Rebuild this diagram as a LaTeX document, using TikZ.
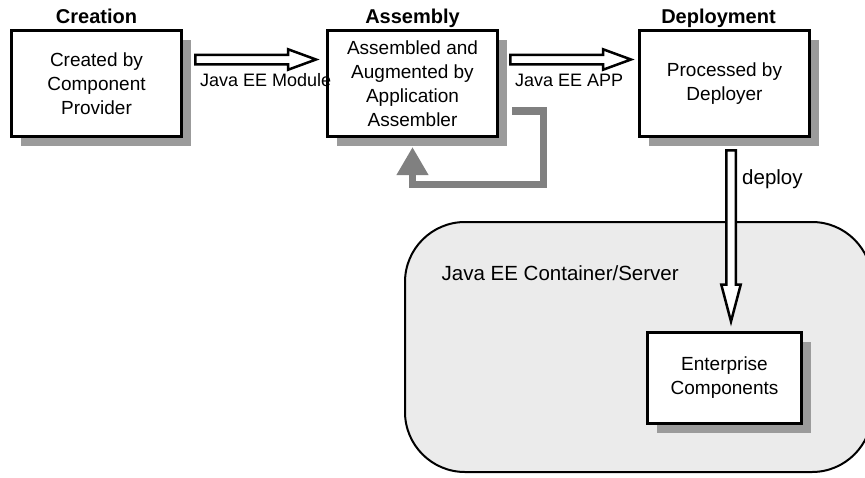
\documentclass[tikz,border=0pt]{standalone}
\usepackage{fontspec}
\setmainfont{Liberation Sans}
\usepackage{tikz}
\usetikzlibrary{shapes,arrows,arrows.meta,positioning,shadows,calc}
\definecolor{shadowgray}{RGB}{155,155,155}
\definecolor{loopgray}{RGB}{128,128,128}
\definecolor{serverfill}{RGB}{235,235,235}

\begin{document}
\begin{tikzpicture}[
    x=1pt, y=1pt,
    box/.style={rectangle, draw, line width=3pt, fill=white, minimum width=170pt, minimum height=106pt, align=center, font=\fontsize{19}{24}\selectfont, drop shadow={shadow xshift=9.5pt, shadow yshift=-9.5pt, fill=shadowgray, opacity=1}},
    phase/.style={font=\fontsize{20}{24}\selectfont\bfseries, inner sep=0pt, text depth=0pt},
    lbl/.style={font=\fontsize{18}{22}\selectfont, inner sep=0pt, anchor=base west},
    biglbl/.style={font=\fontsize{20.5}{24}\selectfont, inner sep=0pt, anchor=base west},
    server/.style={rectangle, draw, line width=2pt, fill=serverfill, rounded corners=60pt, minimum width=467pt, minimum height=250pt},
    feedback/.style={draw=loopgray, line width=7.5pt, -{Triangle[length=28pt, width=30pt]}},
    blockarrow/.style 2 args={draw, fill=white, line width=2.5pt, to path={
        ($(\tikztostart)!4.75pt!90:(\tikztotarget)$)
        -- ($(\tikztotarget)!#1!(\tikztostart)!4.75pt!-90:(\tikztostart)$)
        -- ($(\tikztotarget)!#1!(\tikztostart)!#2!-90:(\tikztostart)$)
        -- (\tikztotarget)
        -- ($(\tikztotarget)!#1!(\tikztostart)!#2!90:(\tikztostart)$)
        -- ($(\tikztotarget)!#1!(\tikztostart)!4.75pt!90:(\tikztostart)$)
        -- ($(\tikztostart)!4.75pt!-90:(\tikztotarget)$) -- cycle}}
]
    \useasboundingbox (0,0) rectangle (865,-477);

    \node[server] (srv) at (638.5,-347) {};
    \node[biglbl] (srvlbl) at ([xshift=37.5pt,yshift=-59pt]srv.north west) {Java EE Container/Server};

    \node[box] (create) at (96.5,-83.5) {Created by\\Component\\Provider};
    \node[box, right=143pt of create] (assem) {Assembled and\\Augmented by\\Application\\Assembler};
    \node[box, right=139pt of assem] (deploy) {Processed by\\Deployer};
    \node[box, minimum width=154pt, minimum height=91pt, below=193pt of deploy] (ent) {Enterprise\\Components};

    \node[phase, above=5pt of create] (creattl) {Creation};
    \node[phase, above=5pt of assem] (assemttl) {Assembly};
    \node[phase, above=5pt of deploy, xshift=-6pt] (deplttl) {Deployment};

    \draw[blockarrow={28pt}{10.25pt}] ([xshift=12.25pt,yshift=24pt]create.east) to ([xshift=-10pt,yshift=24pt]assem.west);
    \draw[blockarrow={28pt}{10.25pt}] ([xshift=11.25pt,yshift=24pt]assem.east) to ([xshift=-7pt,yshift=24pt]deploy.west);
    \draw[blockarrow={37pt}{9.75pt}] ([xshift=6.5pt,yshift=-12.25pt]deploy.south) to ([xshift=6.5pt,yshift=9.5pt]ent.north);
    \draw[feedback] ([xshift=13pt,yshift=27pt]assem.south east) -| ([xshift=44.5pt,yshift=-46.5pt]assem.south east) -| ([yshift=-9pt]assem.south);

    \node[lbl] (modlbl) at ([xshift=17pt,yshift=-2.5pt]create.east) {Java EE Module};
    \node[lbl] (applbl) at ([xshift=16pt,yshift=-2.5pt]assem.east) {Java EE APP};
    \node[biglbl] (deplbl) at ([xshift=17.5pt,yshift=-46pt]deploy.south) {deploy};
\end{tikzpicture}
\end{document}
